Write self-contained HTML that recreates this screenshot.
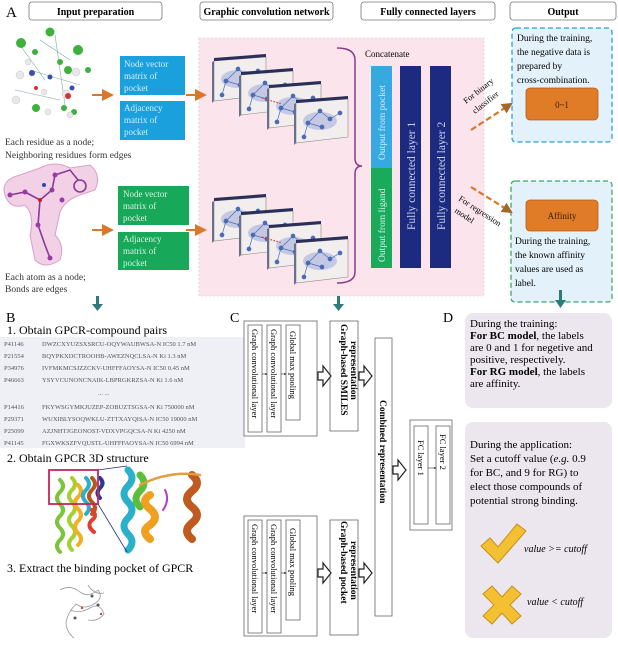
<!DOCTYPE html>
<html><head><meta charset="utf-8"><style>
html,body{margin:0;padding:0;background:#fff}
svg{display:block}
text{font-family:"Liberation Serif",serif}
</style></head><body>
<svg width="618" height="648" viewBox="0 0 618 648" xmlns="http://www.w3.org/2000/svg">
<defs>
<marker id="ah" markerWidth="6" markerHeight="6" refX="5" refY="3" orient="auto"><path d="M0,0 L6,3 L0,6 z" fill="#d9772b"/></marker>
<marker id="ab" markerWidth="5" markerHeight="5" refX="4" refY="2.5" orient="auto"><path d="M0,0 L5,2.5 L0,5 z" fill="#a06a2a"/></marker>
<marker id="sm" markerWidth="4" markerHeight="4" refX="3" refY="2" orient="auto"><path d="M0,0 L4,2 L0,4 z" fill="#333"/></marker>
<g id="panel">
<path d="M0,4 L52,0 L52,38 L0,44 z" fill="#f3eeee" stroke="#888" stroke-width="0.6"/>
<path d="M0,4 L52,0 L52,-3 L0,1 z" fill="#2a2f5a"/>
<path d="M0,4 L0,44 L-2,46 L-2,5 z" fill="#6a6f8a"/>
<ellipse cx="24" cy="22" rx="17" ry="9" fill="#b8bedf" opacity="0.8"/>
<g fill="#4a6bb5" stroke="#4a6bb5" stroke-width="0.7">
<line x1="8" y1="38" x2="12" y2="24"/><line x1="12" y1="24" x2="24" y2="12"/><line x1="24" y1="12" x2="34" y2="20"/><line x1="34" y1="20" x2="44" y2="14"/><line x1="12" y1="24" x2="26" y2="28"/>
<circle cx="8" cy="38" r="2"/><circle cx="12" cy="24" r="2"/><circle cx="24" cy="12" r="2"/><circle cx="34" cy="20" r="2"/><circle cx="44" cy="14" r="2"/><circle cx="26" cy="28" r="2"/>
</g>
</g>
<g id="stack">
<use href="#panel" x="0" y="0"/>
<use href="#panel" x="27" y="14"/>
<use href="#panel" x="55" y="27"/>
<use href="#panel" x="82" y="42"/>
</g>
</defs>

<text x="6" y="17" font-size="15">A</text>
<g fill="#fff" stroke="#777" stroke-width="0.8">
<rect x="29" y="2" width="133" height="18" rx="3"/>
<rect x="200" y="2" width="133" height="18" rx="3"/>
<rect x="361" y="2" width="134" height="18" rx="3"/>
<rect x="510" y="2" width="106" height="18" rx="3"/>
</g>
<g font-size="10" font-weight="bold" text-anchor="middle">
<text x="95.5" y="15">Input preparation</text>
<text x="266.5" y="15">Graphic convolution network</text>
<text x="428" y="15">Fully connected layers</text>
<text x="563" y="15">Output</text>
</g>

<rect x="199" y="38" width="285" height="258" fill="#fbe4ec" stroke="#e0c0cc" stroke-width="0.6" stroke-dasharray="2,2"/>

<g>
<g stroke="#7aa" stroke-width="0.6">
<line x1="20" y1="45" x2="45" y2="80"/><line x1="40" y1="40" x2="70" y2="60"/><line x1="15" y1="90" x2="60" y2="100"/><line x1="30" y1="70" x2="80" y2="85"/><line x1="55" y1="35" x2="65" y2="105"/>
</g>
<g fill="#3db03d"><circle cx="21" cy="43" r="5"/><circle cx="50" cy="32" r="4.5"/><circle cx="78" cy="50" r="5"/><circle cx="35" cy="52" r="3"/><circle cx="68" cy="70" r="4"/><circle cx="36" cy="108" r="4"/><circle cx="64" cy="108" r="3"/><circle cx="88" cy="70" r="3"/><circle cx="74" cy="112" r="3"/><circle cx="60" cy="62" r="3"/></g>
<g fill="#e8e8e8" stroke="#bbb" stroke-width="0.4"><circle cx="20" cy="75" r="4"/><circle cx="16" cy="100" r="4"/><circle cx="44" cy="92" r="3"/><circle cx="76" cy="72" r="4"/><circle cx="66" cy="94" r="4"/><circle cx="28" cy="62" r="3"/><circle cx="70" cy="115" r="3"/><circle cx="48" cy="112" r="3"/></g>
<g fill="#3a4cb0"><circle cx="32" cy="73" r="3"/><circle cx="50" cy="77" r="2.5"/><circle cx="72" cy="88" r="2.5"/></g>
<g fill="#d83030"><circle cx="68" cy="96" r="3"/><circle cx="36" cy="88" r="2"/></g>
</g>
<text x="5" y="145" font-size="9.5" fill="#333">Each residue as a node;</text>
<text x="5" y="158" font-size="9.5" fill="#333">Neighboring residues form edges</text>

<path d="M5,195 Q0,180 20,175 L40,168 Q55,160 70,168 L90,165 Q102,175 95,190 L80,195 Q65,200 60,212 L55,235 Q65,245 60,260 Q45,270 35,260 L30,235 Q35,215 25,205 Q10,210 5,195 z" fill="#f2d0e6" stroke="#d9a0c8" stroke-width="1"/>
<g stroke="#8a3a96" stroke-width="1.6" fill="none">
<path d="M10,195 L25,192 L40,200 L52,190 L55,175 L70,170 L78,180"/>
<path d="M40,200 L38,225 L45,245 L50,258"/>
<circle cx="80" cy="186" r="6"/>
</g>
<g fill="#9a3aa8"><circle cx="10" cy="195" r="2.5"/><circle cx="25" cy="192" r="2.5"/><circle cx="52" cy="190" r="2.5"/><circle cx="55" cy="175" r="2.5"/><circle cx="38" cy="225" r="2.5"/><circle cx="50" cy="258" r="2.5"/><circle cx="62" cy="200" r="2.5"/></g>
<circle cx="40" cy="200" r="2" fill="#c22"/><circle cx="44" cy="185" r="2" fill="#34a"/>
<text x="5" y="280" font-size="9.5" fill="#333">Each atom as a node;</text>
<text x="5" y="292" font-size="9.5" fill="#333">Bonds are edges</text>

<rect x="120" y="56" width="65" height="39" fill="#1aa0dc"/>
<rect x="120" y="101" width="65" height="39" fill="#1aa0dc"/>
<rect x="118" y="186" width="71" height="39" fill="#18a85a"/>
<rect x="118" y="232" width="71" height="38" fill="#18a85a"/>
<g font-size="9" fill="#d8eef8">
<text x="124" y="67">Node vector</text><text x="124" y="79">matrix of</text><text x="124" y="91">pocket</text>
<text x="124" y="111">Adjacency</text><text x="124" y="123">matrix of</text><text x="124" y="135">pocket</text>
</g>
<g font-size="9" fill="#d8f2e2">
<text x="123" y="197">Node vector</text><text x="123" y="209">matrix of</text><text x="123" y="221">pocket</text>
<text x="123" y="242">Adjacency</text><text x="123" y="254">matrix of</text><text x="123" y="266">pocket</text>
</g>
<g stroke="#d9772b" stroke-width="2" marker-end="url(#ah)">
<line x1="92" y1="95" x2="112" y2="95"/><line x1="186" y1="95" x2="205" y2="95"/>
<line x1="92" y1="230" x2="112" y2="230"/><line x1="186" y1="230" x2="205" y2="230"/>
</g>

<use href="#stack" x="214" y="57"/>
<use href="#stack" x="214" y="197"/>
<g stroke="#e03040" stroke-width="1.2" stroke-dasharray="1.5,1.5">
<line x1="262" y1="98" x2="282" y2="104"/><line x1="262" y1="237" x2="282" y2="243"/>
</g>

<path d="M337,48 Q355,48 355,60 L355,158 Q355,166 362,166 Q355,166 355,174 L355,272 Q355,283 337,283" fill="none" stroke="#8a3a8a" stroke-width="1.5"/>
<text x="365" y="57" font-size="9">Concatenate</text>

<rect x="371" y="66" width="21" height="102" fill="#36a9e1"/>
<rect x="371" y="168" width="21" height="100" fill="#1aab5a"/>
<rect x="400" y="66" width="21" height="202" fill="#1c2b7f"/>
<rect x="430" y="66" width="21" height="202" fill="#1c2b7f"/>
<g font-size="9.5" fill="#d8ecf8">
<text transform="translate(385,160) rotate(-90)">Output from pocket</text>
<text transform="translate(385,262) rotate(-90)">Output from ligand</text>
</g>
<g font-size="11.5" fill="#c8d0f0">
<text transform="translate(415,230) rotate(-90)">Fully connected layer 1</text>
<text transform="translate(445,230) rotate(-90)">Fully connected layer 2</text>
</g>

<rect x="512" y="28" width="100" height="114" rx="4" fill="#e2f1fa" stroke="#2a9fd6" stroke-width="1.3" stroke-dasharray="5,3"/>
<g font-size="9.5"><text x="517" y="41">During the training,</text><text x="517" y="55">the negative data is</text><text x="517" y="69">prepared by</text><text x="517" y="83">cross-combination.</text></g>
<rect x="526" y="88" width="72" height="32" rx="4" fill="#e07b28" stroke="#b85a18" stroke-width="0.8"/>
<text x="562" y="108" font-size="9" text-anchor="middle" fill="#3a2010">0~1</text>
<rect x="511" y="181" width="101" height="121" rx="4" fill="#e2f1fa" stroke="#3aa860" stroke-width="1.3" stroke-dasharray="5,3"/>
<rect x="526" y="200" width="72" height="31" rx="4" fill="#e07b28" stroke="#b85a18" stroke-width="0.8"/>
<text x="562" y="219" font-size="9" text-anchor="middle" fill="#3a2010">Affinity</text>
<g font-size="9.5"><text x="515" y="244">During the training,</text><text x="515" y="258">the known affinity</text><text x="515" y="272">values are used as</text><text x="515" y="286">label.</text></g>
<g stroke="#d9772b" stroke-width="2.2" stroke-dasharray="6,3" marker-end="url(#ab)">
<line x1="471" y1="130" x2="511" y2="104"/>
<line x1="471" y1="187" x2="511" y2="212"/>
</g>
<g font-size="8.5">
<text transform="translate(466,104) rotate(-38)">For binary</text>
<text transform="translate(475,114) rotate(-38)">classifier</text>
<text transform="translate(458,200) rotate(33)">For regression</text>
<text transform="translate(454,212) rotate(33)">model</text>
</g>

<g fill="#2f7a7a">
<rect x="96" y="296" width="3" height="9"/><path d="M92,304 L103,304 L97.5,311 z"/>
<rect x="337" y="296" width="3" height="9"/><path d="M333,304 L344,304 L338.5,311 z"/>
<rect x="559" y="290" width="3" height="11"/><path d="M555,300 L566,300 L560.5,308 z"/>
</g>

<text x="6" y="322" font-size="14">B</text>
<text x="7" y="334" font-size="12">1. Obtain GPCR-compound pairs</text>
<rect x="0" y="337" width="245" height="111" fill="#eef0f5"/>
<g font-size="6.5" fill="#555">
<text x="4" y="346">P41146</text><text x="42" y="346">DWZCXYUZSXSRCU-OQYWAUBWSA-N  IC50  1.7 nM</text>
<text x="4" y="358">P21554</text><text x="42" y="358">BQYPKXDCTROOHB-AWEZNQCLSA-N  Ki  1.3 nM</text>
<text x="4" y="370">P34976</text><text x="42" y="370">IVFMKMCSJZZCKV-UHFFFAOYSA-N  IC50  0.45 nM</text>
<text x="4" y="382">P46663</text><text x="42" y="382">YSYVCUNONCNAIK-LBPRGKRZSA-N  Ki  1.6 nM</text>
<text x="98" y="395">... ...</text>
<text x="4" y="409">P14416</text><text x="42" y="409">FKYWSGYMKJUZEP-ZOBUZTSGSA-N  Ki  750000 nM</text>
<text x="4" y="421">P29371</text><text x="42" y="421">WUXIBLYSOQWKLU-ZTTXAYQISA-N  IC50  19000 nM</text>
<text x="4" y="433">P25099</text><text x="42" y="433">AZJNHTJGEONOST-VDXVPGQCSA-N  Ki  4250 nM</text>
<text x="4" y="445">P41145</text><text x="42" y="445">FGXWKSZFVQUSTL-UHFFFAOYSA-N  IC50  6994 nM</text>
</g>
<text x="7" y="462" font-size="12">2. Obtain GPCR 3D structure</text>
<g fill="none" stroke-width="4" stroke-linecap="round">
<path d="M60,480 q6,6 0,12 q-6,6 0,12 q6,6 0,12 q-6,6 0,12 q6,6 0,12 q-6,6 0,12" stroke="#7cc43a"/>
<path d="M72,478 q6,6 0,12 q-6,6 0,12 q6,6 0,12 q-6,6 0,12 q6,6 0,12 q-6,6 0,12" stroke="#a6d030"/>
<path d="M78,485 q6,6 0,12 q-6,6 0,12 q6,6 0,12 q-6,6 0,12 q6,6 0,12" stroke="#f0b020"/>
<path d="M86,478 q6,6 0,12 q-6,6 0,12 q6,6 0,12" stroke="#2ab0c8"/>
<path d="M92,478 q6,6 0,12 q-6,6 0,12 q6,6 0,12" stroke="#b05a20"/>
<path d="M100,478 q5,5 0,10 q-5,5 0,10" stroke="#2a3a9a"/>
<path d="M92,510 q6,6 0,10 q-6,6 2,12" stroke="#e04030"/>
<path d="M128,470 q8,8 0,16 q-8,8 0,16 q8,8 0,16 q-8,8 0,16 q8,8 0,16" stroke="#2ab0c8" stroke-width="7"/>
<path d="M140,475 q8,8 0,16 q-8,8 0,16" stroke="#5cbf3a" stroke-width="7"/>
<path d="M150,495 q-10,6 0,14 q10,8 0,16 q-10,6 0,14" stroke="#f0a020" stroke-width="8"/>
<path d="M192,475 q10,8 0,16 q-10,8 0,16 q10,8 0,16 q-10,8 0,16" stroke="#c05a20" stroke-width="8"/>
<path d="M140,485 Q170,470 200,475" stroke="#e0a040" stroke-width="2.5"/>
<path d="M165,490 q5,10 -2,20" stroke="#b040c0" stroke-width="2"/>
</g>
<rect x="49" y="470" width="49" height="34" fill="none" stroke="#c8245a" stroke-width="1.8"/>
<line x1="98" y1="470" x2="127" y2="466" stroke="#2a2a80" stroke-width="0.8"/>
<line x1="98" y1="504" x2="127" y2="552" stroke="#2a2a80" stroke-width="0.8"/>
<text x="7" y="572" font-size="12">3. Extract the binding pocket of GPCR</text>
<g fill="none" stroke="#999" stroke-width="0.8">
<path d="M60,590 q10,-6 20,2 q8,6 18,-2 q6,8 -4,14 q-10,6 -18,0 q-8,8 -10,18 q0,10 8,16"/>
<path d="M70,610 q10,4 20,-2 q10,-6 14,6 q-6,8 -16,6"/>
<path d="M88,585 q6,10 16,8"/>
</g>
<g fill="#556"><circle cx="92" cy="596" r="1.5"/><circle cx="98" cy="605" r="1.5"/><circle cx="75" cy="618" r="1.5"/></g>
<g fill="#c44"><circle cx="82" cy="608" r="1.2"/><circle cx="101" cy="614" r="1.2"/></g>

<text x="230" y="322" font-size="14">C</text>
<g fill="#fff" stroke="#666" stroke-width="0.8">
<rect x="244" y="321" width="73" height="115"/>
<rect x="248" y="325" width="14" height="107"/><rect x="267" y="325" width="14" height="107"/><rect x="286" y="325" width="14" height="95"/>
<rect x="330" y="321" width="28" height="110"/>
<rect x="244" y="516" width="73" height="120"/>
<rect x="248" y="520" width="14" height="113"/><rect x="267" y="520" width="14" height="113"/><rect x="286" y="520" width="14" height="100"/>
<rect x="330" y="520" width="28" height="115"/>
<rect x="375" y="338" width="17" height="278"/>
<rect x="410" y="420" width="42" height="110"/>
<rect x="414" y="426" width="14" height="98"/><rect x="436" y="426" width="14" height="98"/>
</g>
<g stroke="#333" stroke-width="0.6" marker-end="url(#sm)">
<line x1="262" y1="374" x2="267" y2="374"/><line x1="281" y1="374" x2="286" y2="374"/>
<line x1="262" y1="573" x2="267" y2="573"/><line x1="281" y1="573" x2="286" y2="573"/>
<line x1="428" y1="468" x2="436" y2="468"/>
</g>
<g font-size="8.5">
<text transform="translate(252,329) rotate(90)">Graph convolutional layer</text>
<text transform="translate(271,329) rotate(90)">Graph convolutional layer</text>
<text transform="translate(290,331) rotate(90)">Global max pooling</text>
<text transform="translate(252,524) rotate(90)">Graph convolutional layer</text>
<text transform="translate(271,524) rotate(90)">Graph convolutional layer</text>
<text transform="translate(290,528) rotate(90)">Global max pooling</text>
<text transform="translate(418,440) rotate(90)">FC layer 1</text>
<text transform="translate(440,434) rotate(90)">FC layer 2</text>
</g>
<g font-size="9.5" font-weight="bold">
<text transform="translate(341,324) rotate(90)">Graph-based SMILES</text>
<text transform="translate(351,341) rotate(90)">representation</text>
<text transform="translate(341,521) rotate(90)">Graph-based pocket</text>
<text transform="translate(351,541) rotate(90)">representation</text>
<text transform="translate(380,400) rotate(90)">Combined representation</text>
</g>
<g fill="#fff" stroke="#222" stroke-width="1.2">
<path d="M318,372 h5 v-6 l8,10 l-8,10 v-6 h-5 z"/>
<path d="M359,372 h5 v-6 l8,10 l-8,10 v-6 h-5 z"/>
<path d="M318,569 h5 v-6 l8,10 l-8,10 v-6 h-5 z"/>
<path d="M359,569 h5 v-6 l8,10 l-8,10 v-6 h-5 z"/>
<path d="M393,466 h5 v-6 l8,10 l-8,10 v-6 h-5 z"/>
</g>

<text x="443" y="322" font-size="14">D</text>
<rect x="465" y="313" width="147" height="95" rx="8" fill="#ece6ef"/>
<g font-size="11">
<text x="470" y="327">During the training:</text>
<text x="470" y="339"><tspan font-weight="bold">For BC model</tspan>, the labels</text>
<text x="470" y="351">are 0 and 1 for negetive and</text>
<text x="470" y="363">positive, respectively.</text>
<text x="470" y="375"><tspan font-weight="bold">For RG model</tspan>, the labels</text>
<text x="470" y="387">are affinity.</text>
</g>
<rect x="465" y="422" width="147" height="216" rx="8" fill="#ece6ef"/>
<g font-size="11">
<text x="470" y="448">During the application:</text>
<text x="470" y="462">Set a cutoff value (<tspan font-style="italic">e.g.</tspan> 0.9</text>
<text x="470" y="476">for BC, and 9 for RG) to</text>
<text x="470" y="490">elect those compounds of</text>
<text x="470" y="504">potential strong binding.</text>
</g>
<path d="M481,546 l9,-8 l8,9 l19,-23 l9,7 l-28,32 z" fill="#f2c030" stroke="#c8901a" stroke-width="1"/>
<path d="M483,594 l9,-8 l10,11 l10,-11 l9,8 l-11,11 l11,11 l-9,8 l-10,-11 l-10,11 l-9,-8 l11,-11 z" fill="#f2c030" stroke="#c8901a" stroke-width="1"/>
<g font-size="10" font-style="italic">
<text x="524" y="552">value &gt;= cutoff</text>
<text x="527" y="605">value &lt; cutoff</text>
</g>
</svg>
</body></html>
